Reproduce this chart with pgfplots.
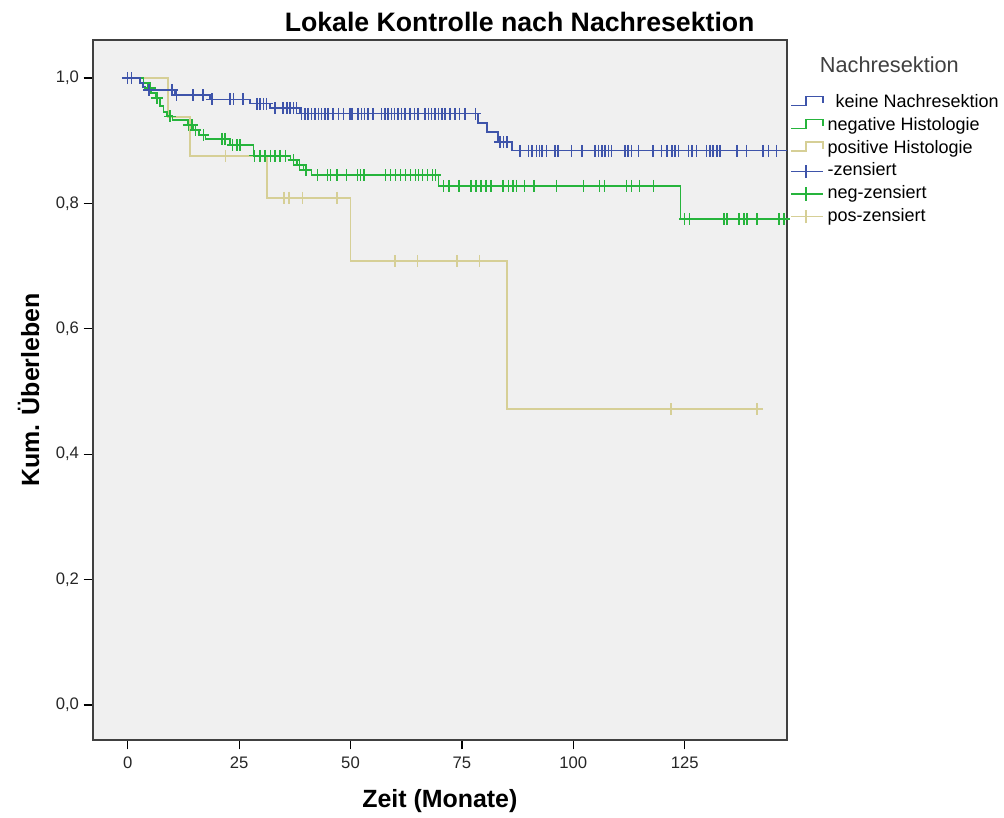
\documentclass[border=0pt]{standalone}
\usepackage{fontspec}
\setmainfont{Liberation Sans}
\usepackage{pgfplots}
\pgfplotsset{compat=1.18}

\definecolor{kmblue}{RGB}{62,84,170}
\definecolor{kmgreen}{RGB}{38,180,60}
\definecolor{kmtan}{RGB}{214,207,150}
\definecolor{bggray}{RGB}{240,240,240}

\pgfplotsset{
  stepicon/.style={legend image code/.code={
    \draw[##1] (0pt,-1.7pt) -- (11.25pt,-1.7pt) -- (11.25pt,5pt) -- (23.8pt,5pt) -- (23.8pt,0pt);}},
  censicon/.style={legend image code/.code={
    \draw[##1] (0pt,0pt) -- (23.8pt,0pt);
    \draw[##1] (11.25pt,-5pt) -- (11.25pt,5pt);}},
}

\begin{document}
\begin{tikzpicture}
\useasboundingbox (-69.75pt,-58.5pt) rectangle (683.25pt,555pt);
\begin{axis}[
    at={(0,0)}, anchor=south west,
    scale only axis,
    width=520.3pt, height=525pt,
    xmin=-7.79, xmax=147.9,
    ymin=-0.0558, ymax=1.0606,
    axis background/.style={fill=bggray},
    axis line style={draw=black!75, line width=1.2pt},
    tick pos=left,
    tick align=outside,
    major tick length=7pt,
    tick style={black, line width=0.9pt},
    xtick={0,25,50,75,100,125},
    ytick={0,0.2,0.4,0.6,0.8,1},
    /pgf/number format/assume math mode=true,
    ticklabel style={font=\fontsize{12.5}{15}\selectfont, text=black!85},
    xticklabel style={yshift=-2pt},
    yticklabel style={/pgf/number format/.cd, fixed, fixed zerofill, precision=1, use comma},
    title={Lokale Kontrolle nach Nachresektion},
    title style={at={(axis description cs:0.615,1)}, anchor=base, yshift=0pt,
      font=\bfseries\fontsize{20}{24}\selectfont},
    xlabel={Zeit (Monate)},
    xlabel style={at={(axis description cs:0.5,-0.0971)}, anchor=base,
      font=\bfseries\fontsize{18.7}{22}\selectfont},
    ylabel={Kum. Überleben},
    ylabel style={at={(axis description cs:-0.0778,0.5)}, anchor=base,
      font=\bfseries\fontsize{18.7}{22}\selectfont},
    legend style={at={(axis description cs:1.0048,0.926)}, anchor=north west,
      draw=none, fill=none, inner sep=0pt, row sep=0pt,
      font=\fontsize{13.5}{16}\selectfont,
      nodes={text height=9.5pt, text depth=2.8pt, inner ysep=2.35pt, inner xsep=3pt}},
    legend cell align=left,
    clip=false,
]
% Stufenkurven (x = Beginn der Stufe, y = Wert)
\addplot[const plot, kmtan, line width=1.15pt, forget plot] coordinates {
  (0,1.0) (9.0,0.938) (14.0,0.876) (31.3,0.809) (50.0,0.708) (85.1,0.472) (142.3,0.472)};
\addplot[const plot, kmgreen, line width=1.15pt, forget plot] coordinates {
  (0,1.0) (3.5,0.992) (4.5,0.984) (5.2,0.976) (6.2,0.968) (7.2,0.955) (8.0,0.946)
  (8.8,0.939) (10.0,0.933) (13.5,0.925) (14.6,0.917) (16.0,0.909) (17.5,0.903)
  (23.0,0.893) (28.2,0.876) (36.5,0.869) (38.0,0.861) (39.5,0.853) (41.2,0.845)
  (69.8,0.828) (124.1,0.775) (147.9,0.775)};
\addplot[const plot, kmblue, line width=1.15pt, forget plot] coordinates {
  (0,1.0) (2.8,0.992) (3.4,0.986) (3.9,0.981) (10.6,0.973) (18.5,0.966) (27.4,0.959)
  (31.9,0.952) (38.7,0.943) (78.6,0.928) (80.6,0.914) (83.1,0.898) (86.2,0.884)
  (147.9,0.884)};

% zensierte Faelle
\addplot[only marks, mark=+, mark size=4.4pt, kmtan, line width=1.1pt, forget plot] coordinates {
  (22.0,0.876) (35.1,0.809) (36.2,0.809) (39.2,0.809) (47.0,0.809)
  (60.0,0.708) (65.0,0.708) (73.9,0.708) (78.9,0.708)
  (121.9,0.472) (141.2,0.472)};
\addplot[only marks, mark=+, mark size=4.4pt, kmgreen, line width=1.1pt, forget plot] coordinates {
  (5.0,0.984) (6.6,0.968) (9.5,0.939) (13.7,0.925) (14.4,0.925) (15.2,0.917) (17.0,0.909)
  (21.2,0.903) (21.8,0.903) (23.5,0.893) (24.5,0.893) (25.2,0.893)
  (28.5,0.876) (29.7,0.876) (30.8,0.876) (32.0,0.876) (33.1,0.876) (34.2,0.876) (35.4,0.876)
  (37.2,0.869) (38.6,0.861) (40.0,0.853)
  (42.6,0.845) (44.8,0.845) (45.5,0.845) (47.0,0.845) (49.1,0.845) (51.6,0.845) (52.3,0.845)
  (53.0,0.845) (57.9,0.845) (59.0,0.845) (60.1,0.845) (61.2,0.845) (62.4,0.845) (63.5,0.845)
  (64.6,0.845) (65.3,0.845) (66.2,0.845) (67.3,0.845) (68.4,0.845) (69.1,0.845)
  (70.9,0.828) (72.1,0.828) (74.3,0.828) (77.0,0.828) (78.2,0.828) (79.3,0.828) (80.4,0.828)
  (81.5,0.828) (84.2,0.828) (85.4,0.828) (86.5,0.828) (87.2,0.828) (89.0,0.828) (91.2,0.828)
  (96.2,0.828) (102.3,0.828) (105.9,0.828) (107.0,0.828) (111.9,0.828) (113.1,0.828)
  (114.9,0.828) (118.0,0.828)
  (125.0,0.775) (126.1,0.775) (133.8,0.775) (134.5,0.775) (137.2,0.775) (138.3,0.775)
  (139.0,0.775) (141.2,0.775) (146.2,0.775) (147.3,0.775)};
\addplot[only marks, mark=+, mark size=4.4pt, kmblue, line width=1.1pt, forget plot] coordinates {
  (0.0,1.0) (0.9,1.0) (4.8,0.981) (9.9,0.981) (11.0,0.973) (14.6,0.973) (16.9,0.973)
  (18.9,0.966) (23.0,0.966) (23.7,0.966) (25.9,0.966)
  (29.0,0.959) (29.7,0.959) (30.5,0.959) (31.2,0.959)
  (33.1,0.952) (34.9,0.952) (35.7,0.952) (36.4,0.952) (37.2,0.952) (37.9,0.952)
  (39.0,0.943) (39.8,0.943) (40.5,0.943) (41.3,0.943) (42.0,0.943) (42.8,0.943) (43.5,0.943)
  (44.3,0.943) (45.0,0.943) (46.1,0.943) (47.3,0.943) (48.4,0.943) (49.9,0.943)
  (50.3,0.943) (51.7,0.943) (52.5,0.943) (53.2,0.943) (53.9,0.943) (55.0,0.943)
  (57.0,0.943) (57.7,0.943) (58.4,0.943) (59.2,0.943) (59.9,0.943) (60.7,0.943) (61.4,0.943)
  (62.2,0.943) (63.3,0.943) (64.4,0.943) (65.1,0.943) (66.7,0.943) (67.5,0.943) (68.2,0.943)
  (69.0,0.943) (69.7,0.943) (70.5,0.943) (71.2,0.943) (72.3,0.943) (73.4,0.943) (74.5,0.943)
  (75.7,0.943) (78.0,0.943)
  (83.6,0.898) (84.3,0.898) (85.1,0.898)
  (88.0,0.884) (89.9,0.884) (90.7,0.884) (91.8,0.884) (92.4,0.884) (93.0,0.884) (94.0,0.884)
  (95.9,0.884) (96.6,0.884) (99.6,0.884) (101.9,0.884)
  (104.9,0.884) (105.6,0.884) (106.4,0.884) (107.1,0.884) (107.9,0.884) (108.6,0.884)
  (111.6,0.884) (112.3,0.884) (113.1,0.884) (114.6,0.884) (117.9,0.884)
  (119.8,0.884) (121.0,0.884) (122.1,0.884) (122.8,0.884) (123.6,0.884)
  (125.8,0.884) (126.6,0.884) (127.7,0.884)
  (129.9,0.884) (130.7,0.884) (131.4,0.884) (132.2,0.884) (132.9,0.884)
  (136.7,0.884) (138.9,0.884) (142.6,0.884) (143.8,0.884) (145.6,0.884)};

% Legende
\addlegendimage{kmblue, line width=1.1pt, stepicon}
\addlegendimage{kmgreen, line width=1.1pt, stepicon}
\addlegendimage{kmtan, line width=1.1pt, stepicon}
\addlegendimage{kmblue, line width=1.1pt, censicon}
\addlegendimage{kmgreen, line width=1.1pt, censicon}
\addlegendimage{kmtan, line width=1.1pt, censicon}
\legend{\hspace{6pt}keine Nachresektion, negative Histologie, positive Histologie,
  -zensiert, neg-zensiert, pos-zensiert}

\node[anchor=west, text=black!75, font=\fontsize{16.3}{19}\selectfont]
  at (axis description cs:1.041,0.964) {Nachresektion};
\end{axis}
\end{tikzpicture}
\end{document}
